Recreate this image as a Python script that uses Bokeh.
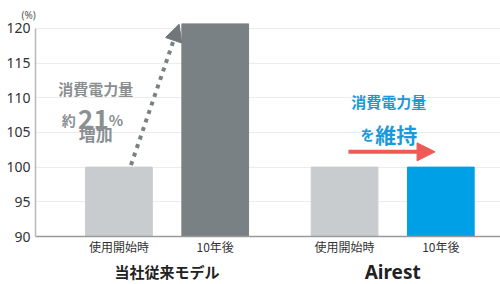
from bokeh.plotting import figure
from bokeh.layouts import column
from bokeh.models import ColumnDataSource, FixedTicker, Arrow, NormalHead, Range1d
from bokeh.core.properties import value
from bokeh.embed import file_html
from bokeh.resources import INLINE

# --- data -------------------------------------------------------------
groups = ["当社従来モデル", "Airest"]
stages = ["使用開始時", "10年後"]
conventional = [100, 121]   # 約21% increase after ten years
airest = [100, 100]         # consumption maintained
y_ticks = [90, 95, 100, 105, 110, 115, 120]

# --- styling ----------------------------------------------------------
bar_colors = ["#c9cccf", "#7a8184", "#c9cccf", "#00a0e6"]
CJK = "Noto Sans CJK JP"
LATIN = "Noto Sans"
GREY_TXT = "#8a8f92"
BLUE_TXT = "#1a9ad8"
GROUP_GAP = 0.34375      # extra space between the two groups, in bar slots
BAR_W = 0.693

# one slot per bar, groups separated by GROUP_GAP
n_st = len(stages)
xpos = [gi * (n_st + GROUP_GAP) + si for gi in range(len(groups)) for si in range(n_st)]
group_centers = [sum(xpos[gi * n_st:(gi + 1) * n_st]) / n_st for gi in range(len(groups))]
heights = conventional + airest

x_range = Range1d(xpos[0] - 0.867, xpos[-1] + 0.62)

p = figure(width=500, height=257, x_range=x_range, y_range=(90, 120.7),
           output_backend="svg", toolbar_location=None,
           min_border_left=35, min_border_right=0, min_border_top=23, min_border_bottom=21)
p.outline_line_color = None

# unit label above the value axis
p.title.text = "(%)"
p.title.align = "left"
p.title.offset = -14
p.title.standoff = 3
p.title.text_font = LATIN
p.title.text_font_size = "10px"
p.title.text_font_style = "normal"
p.title.text_color = "#555555"

# bars
src = ColumnDataSource(dict(x=xpos, top=heights, color=bar_colors))
p.vbar(x="x", top="top", bottom=90, width=BAR_W, color="color", source=src)

# axes and grid
p.xgrid.visible = False
p.ygrid.ticker = FixedTicker(ticks=y_ticks)
p.ygrid.grid_line_color = "#ececec"

ya = p.yaxis[0]
ya.ticker = FixedTicker(ticks=y_ticks)
ya.bounds = (90, 120)
ya.axis_line_color = "#b8b8b8"
ya.axis_line_width = 1.5
ya.major_tick_out = 0
ya.major_tick_in = 0
ya.minor_tick_line_color = None
ya.major_label_standoff = 5
ya.major_label_text_font = LATIN
ya.major_label_text_font_size = "14px"
ya.major_label_text_color = "#333333"

xa = p.xaxis[0]
xa.ticker = FixedTicker(ticks=xpos)
xa.major_label_overrides = {x: stages[i % n_st] for i, x in enumerate(xpos)}
xa.axis_line_color = "#9a9a9a"
xa.axis_line_width = 1.5
xa.major_tick_out = 0
xa.major_tick_in = 0
xa.minor_tick_line_color = None
xa.major_label_standoff = 1
xa.major_label_text_font = CJK
xa.major_label_text_font_size = "12px"
xa.major_label_text_color = "#333333"

# callout: increase for the conventional model
x0 = xpos[0]
grey_src = ColumnDataSource(dict(
    x=[x0 - 0.24, x0 - 0.45, x0 - 0.265, x0 - 0.105, x0 - 0.24],
    y=[111.3, 106.8, 106.8, 106.8, 104.8],
    text=["消費電力量", "約", "21", "%", "増加"],
    size=["15px", "14px", "26px", "15px", "17px"],
    align=["center", "right", "center", "left", "center"],
    base=["middle", "alphabetic", "alphabetic", "alphabetic", "middle"],
))
p.text(x="x", y="y", text="text", source=grey_src, text_font=value(CJK),
       text_font_size="size", text_align="align", text_baseline="base",
       text_font_style="bold", text_color=GREY_TXT)

# callout: Airest keeps its consumption
x2 = xpos[2]
blue_src = ColumnDataSource(dict(
    x=[x2 + 0.46, x2 + 0.31, x2 + 0.32],
    y=[109.4, 104.8, 104.8],
    text=["消費電力量", "を", "維持"],
    size=["15px", "14px", "21px"],
    align=["center", "right", "left"],
    base=["middle", "alphabetic", "alphabetic"],
))
p.text(x="x", y="y", text="text", source=blue_src, text_font=value(CJK),
       text_font_size="size", text_align="align", text_baseline="base",
       text_font_style="bold", text_color=BLUE_TXT)

# dotted rise arrow from the first bar towards the top of the second
p.add_layout(Arrow(x_start=xpos[0] + 0.125, y_start=conventional[0] + 0.3,
                   x_end=xpos[1] - 0.375, y_end=120.6,
                   line_color="#7a8184", line_width=4, line_dash="4 5",
                   end=NormalHead(size=17, fill_color="#70777a", line_color="#70777a")))

# flat red arrow over the Airest pair
p.add_layout(Arrow(x_start=xpos[2] + 0.04, y_start=102.2,
                   x_end=xpos[3] - 0.06, y_end=102.2,
                   line_color="#ef5a56", line_width=4,
                   end=NormalHead(size=18, fill_color="#ef5a56", line_color="#ef5a56")))

# group names, in a strip under the chart sharing its x scale
g = figure(width=500, height=27, x_range=x_range, y_range=(0, 1),
           output_backend="svg", toolbar_location=None,
           min_border_left=35, min_border_right=0, min_border_top=0, min_border_bottom=0)
g.axis.visible = False
g.grid.visible = False
g.outline_line_color = None
g.text(x=group_centers[:1], y=[0.5], text=groups[:1],
       text_font=value(CJK), text_font_size="15px",
       text_font_style="bold", text_color="#222222",
       text_align="center", text_baseline="middle")
g.text(x=group_centers[1:], y=[0.46], text=groups[1:],
       text_font=value(LATIN), text_font_size="19px",
       text_font_style="bold", text_color="#222222",
       text_align="center", text_baseline="middle")

layout = column(p, g, spacing=0)
open("out.html", "w").write(file_html(layout, INLINE))
